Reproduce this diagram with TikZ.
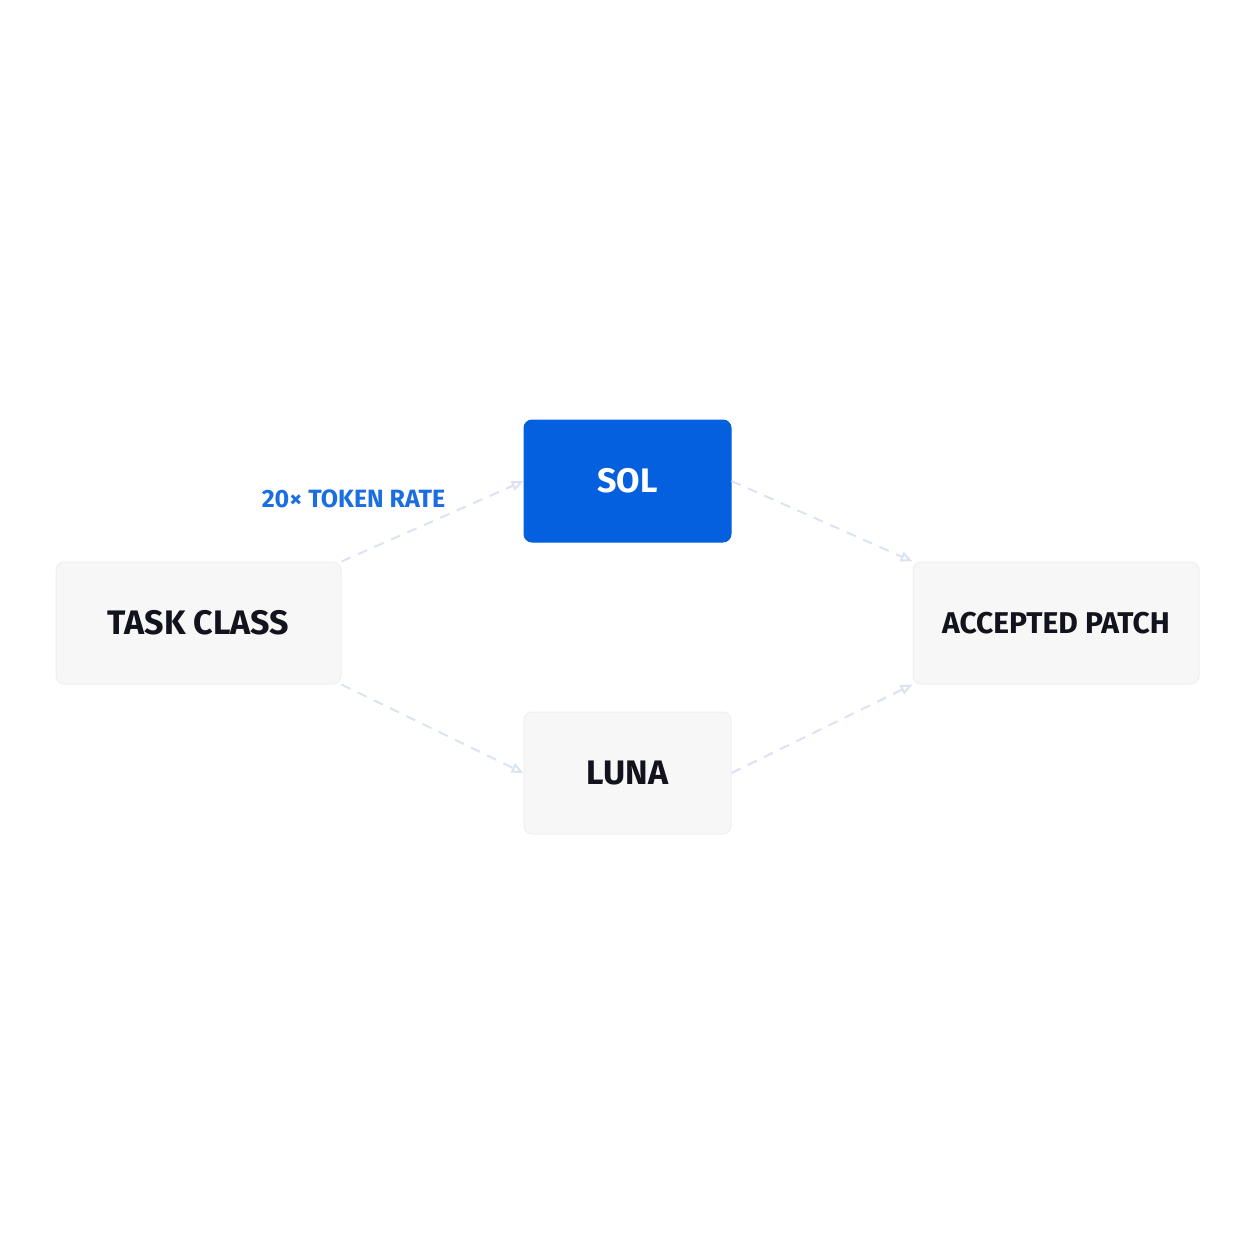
\documentclass[tikz,border=0pt]{standalone}
\usepackage{fontspec}
\setmainfont{Fira Sans}
\usetikzlibrary{arrows.meta}
\definecolor{boxfill}{HTML}{F7F7F8}
\definecolor{boxline}{HTML}{EFEFF1}
\definecolor{solblue}{HTML}{0560DF}
\definecolor{lblblue}{HTML}{1A6EE0}
\definecolor{ink}{HTML}{12131C}
\definecolor{edge}{HTML}{DCE3F0}
\begin{document}
\begin{tikzpicture}[x=1pt,y=-1pt,
  box/.style={rectangle,rounded corners=8pt,fill=boxfill,draw=boxline,line width=1pt,minimum height=122pt,text=ink,font=\fontsize{34}{40}\selectfont\bfseries},
  conn/.style={draw=edge,line width=2pt,dash pattern=on 10pt off 8pt,-{Triangle[open,length=12pt,width=10pt]}}]
\useasboundingbox (0,0) rectangle (1254,1254);
\node[box,minimum width=285pt] (task) at (198.5,623) {TASK CLASS};
\node[box,minimum width=207pt,fill=solblue,draw=solblue,text=white] (sol) at (627.5,481) {SOL};
\node[box,minimum width=207pt] (luna) at (627.5,773) {LUNA};
\node[box,minimum width=286pt,font=\fontsize{30}{36}\selectfont\bfseries] (acc) at (1056,623) {ACCEPTED PATCH};
\node[text=lblblue,font=\fontsize{25}{30}\selectfont\bfseries] (lbl) at (353.5,499) {20× TOKEN RATE};
\draw[conn] (task.north east) -- (sol.west);
\draw[conn] (task.south east) -- (luna.west);
\draw[conn] (sol.east) -- (acc.north west);
\draw[conn] (luna.east) -- (acc.south west);
\end{tikzpicture}
\end{document}
